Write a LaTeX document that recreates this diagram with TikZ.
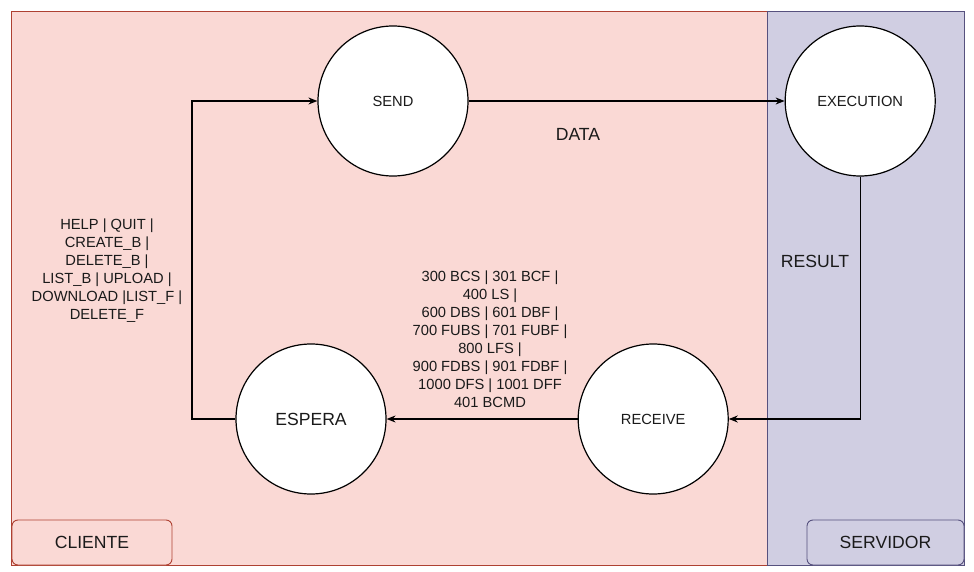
\documentclass[tikz,border=0pt]{standalone}
\usepackage{fontspec}
\setmainfont{Liberation Sans}
\usetikzlibrary{positioning,arrows.meta}
\definecolor{rosa}{HTML}{FAD9D5}
\definecolor{rosaborda}{HTML}{AE4132}
\definecolor{lilas}{HTML}{D0CEE2}
\definecolor{lilasborda}{HTML}{56517E}
\definecolor{tinta}{HTML}{1A1A1A}
\newcommand{\txtpeq}{\fontsize{14.7}{18}\selectfont}
\newcommand{\txtgr}{\fontsize{17.6}{20}\selectfont}

\begin{document}
\begin{tikzpicture}[
      x=1pt, y=-1pt,
      every node/.style={text=tinta},
      E/.style={draw=black,circle,line width=1.2pt,fill=white,minimum size=150pt,inner sep=0pt,font=\txtpeq},
      rot/.style={draw,rounded corners=6pt,line width=0.9pt,minimum height=45pt,font=\txtgr},
      lbl/.style={font=\txtpeq,align=center,inner sep=0pt},
      >={Stealth[length=9pt,width=7pt]},
    ]
  \useasboundingbox (0,0) rectangle (974,572);
  % regioes cliente e servidor
  \draw[fill=rosa,draw=rosaborda,line width=0.9pt] (11,11) rectangle (767,565);
  \draw[fill=lilas,draw=lilasborda,line width=0.9pt] (767,11) rectangle (964,565);
  \node[rot,fill=rosa,draw=rosaborda,minimum width=160pt] (cli) at (92,542.5) {CLIENTE};
  \node[rot,fill=lilas,draw=lilasborda,minimum width=157pt] (srv) at (885.5,542.5) {SERVIDOR};

  % estados
  \node[E] (send) at (393,101) {SEND};
  \node[E, right=316pt of send] (exec) {EXECUTION};
  \node[E, font=\txtgr] (espera) at (311,419) {ESPERA};
  \node[E, right=191pt of espera] (recv) {RECEIVE};
  \coordinate (volta) at (192,419);

  % transicoes
  \draw[->,line width=1.2pt] (send) -- (exec);
  \draw[->,line width=1.2pt] (exec.south) |- (recv.east);
  \draw[->,line width=1.2pt] (recv) -- (espera);
  \draw[->,line width=1.2pt] (espera.west) -- (volta) |- (send.west);

  \node[lbl,font=\txtgr] (data) at (578,134) {DATA};
  \node[lbl,font=\txtgr] (result) at (815,261) {RESULT};
  \node[lbl] (cmds) at (107,271) {HELP | QUIT |\\ CREATE\_B |\\ DELETE\_B |\\ LIST\_B | UPLOAD |\\ DOWNLOAD |LIST\_F |\\ DELETE\_F};
  \node[lbl] (codes) at (490,339) {300 BCS | 301 BCF |\\ 400 LS |\\ 600 DBS | 601 DBF |\\ 700 FUBS | 701 FUBF |\\ 800 LFS |\\ 900 FDBS | 901 FDBF |\\ 1000 DFS | 1001 DFF\\ 401 BCMD};
\end{tikzpicture}
\end{document}
